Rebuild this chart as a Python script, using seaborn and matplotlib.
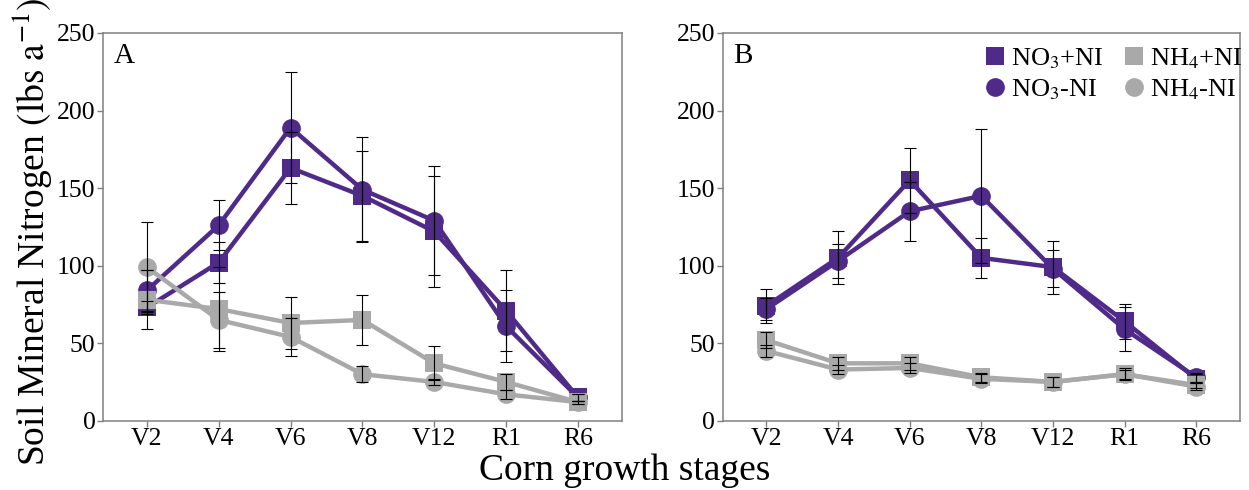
import numpy as np
import pandas as pd
import matplotlib
matplotlib.use("Agg")
import matplotlib.pyplot as plt
from matplotlib.lines import Line2D
import seaborn as sns

stages = ["V2", "V4", "V6", "V8", "V12", "R1", "R6"]
treatments = ["NO$_3$+NI", "NO$_3$-NI", "NH$_4$+NI", "NH$_4$-NI"]

# Panel A values and errors
a_no3_ni = [73, 102, 163, 145, 122, 71, 15]
a_no3_ni_err = [4, 13, 23, 29, 36, 26, 2]
a_no3_noni = [84, 126, 189, 149, 129, 61, 15]
a_no3_noni_err = [13, 16, 36, 34, 35, 23, 2]
a_nh4_ni = [78, 72, 63, 65, 37, 25, 12]
a_nh4_ni_err = [19, 27, 17, 16, 11, 5, 1]
a_nh4_noni = [99, 65, 54, 30, 25, 17, 12]
a_nh4_noni_err = [29, 18, 12, 5, 2, 3, 1]

# Panel B values and errors
b_no3_ni = [74, 105, 155, 105, 99, 64, 27]
b_no3_ni_err = [11, 17, 21, 13, 17, 11, 3]
b_no3_noni = [72, 103, 135, 145, 98, 59, 28]
b_no3_noni_err = [7, 11, 19, 43, 12, 14, 3]
b_nh4_ni = [52, 37, 37, 28, 25, 30, 23]
b_nh4_ni_err = [5, 4, 4, 3, 3, 4, 2]
b_nh4_noni = [45, 33, 34, 27, 25, 30, 22]
b_nh4_noni_err = [4, 3, 3, 3, 3, 3, 2]

panel_a = [(a_no3_ni, a_no3_ni_err), (a_no3_noni, a_no3_noni_err),
           (a_nh4_ni, a_nh4_ni_err), (a_nh4_noni, a_nh4_noni_err)]
panel_b = [(b_no3_ni, b_no3_ni_err), (b_no3_noni, b_no3_noni_err),
           (b_nh4_ni, b_nh4_ni_err), (b_nh4_noni, b_nh4_noni_err)]

purple = "#4F2A88"
gray = "#A9A9A9"
colors = [purple, purple, gray, gray]
markers = ["s", "o", "s", "o"]
msizes = [12.5, 13.5, 12.5, 13.5]

sns.set_theme(style="white")
plt.rcParams["font.family"] = ["Liberation Serif", "DejaVu Serif"]
plt.rcParams["mathtext.fontset"] = "stix"
plt.rcParams["text.color"] = "black"
plt.rcParams["axes.labelcolor"] = "black"
plt.rcParams["xtick.color"] = "black"
plt.rcParams["ytick.color"] = "black"

fig = plt.figure(figsize=(12.49, 4.90), dpi=100)
axA = fig.add_axes([0.0825, 0.1414, 0.4153, 0.7913])
axB = fig.add_axes([0.5786, 0.1414, 0.4142, 0.7913])

x_idx = list(range(len(stages)))

for ax, panel, letter in [(axA, panel_a, "A"), (axB, panel_b, "B")]:
    for i, (vals, errs) in enumerate(panel):
        df = pd.DataFrame({"x": x_idx, "y": vals})
        sns.lineplot(data=df, x="x", y="y", ax=ax, color=colors[i],
                     marker=markers[i], markersize=msizes[i], markeredgewidth=0,
                     linewidth=3.2, sort=False, errorbar=None, zorder=2 + i)
    for i, (vals, errs) in enumerate(panel):
        ax.errorbar(x_idx, vals, yerr=errs, fmt="none", ecolor="black",
                    elinewidth=0.8, capsize=4, capthick=0.8, zorder=10)
    ax.set_xlim(-0.61, 6.61)
    ax.set_ylim(0, 250)
    ax.set_yticks([0, 50, 100, 150, 200, 250])
    ax.set_xticks(x_idx)
    ax.set_xticklabels(stages)
    ax.set_xlabel("")
    ax.set_ylabel("")
    ax.tick_params(axis="both", direction="out", length=4, width=1,
                   color="#808080", labelcolor="black", labelsize=18.5, pad=1.5,
                   bottom=True, left=True)
    for s in ax.spines.values():
        s.set_color("#808080")
        s.set_linewidth(1.1)
    ax.text(0.02, 0.975, letter, transform=ax.transAxes, fontsize=21,
            ha="left", va="top", color="black")

label_big = r"Soil Mineral Nitrogen $\left(\mathrm{lbs\ a}^{-1}_{\phantom{(}}\right)$"
label_plain = r"Soil Mineral Nitrogen $\left(\mathrm{lbs\ a}^{-1}\right)$"

ylab = axA.set_ylabel(label_big, fontsize=27, color="black")
axA.yaxis.set_label_coords(-0.092, 0.487)
fig.text(0.5, 0.02, "Corn growth stages", ha="center", va="baseline",
         fontsize=27, color="black")

handles = [Line2D([], [], linestyle="none", marker=markers[i], color=colors[i],
                  markersize=msizes[i], markeredgewidth=0) for i in range(4)]
axB.legend(handles, treatments, ncol=2, loc="upper right", frameon=False,
           fontsize=19, handletextpad=0.05, columnspacing=0.6, labelspacing=0.25,
           borderaxespad=0.1, handlelength=1.1, bbox_to_anchor=(1.03, 1.0),
           labelcolor="black")

try:
    fig.savefig("out.png", dpi=100)
except Exception:
    ylab.set_text(label_plain)
    fig.savefig("out.png", dpi=100)
